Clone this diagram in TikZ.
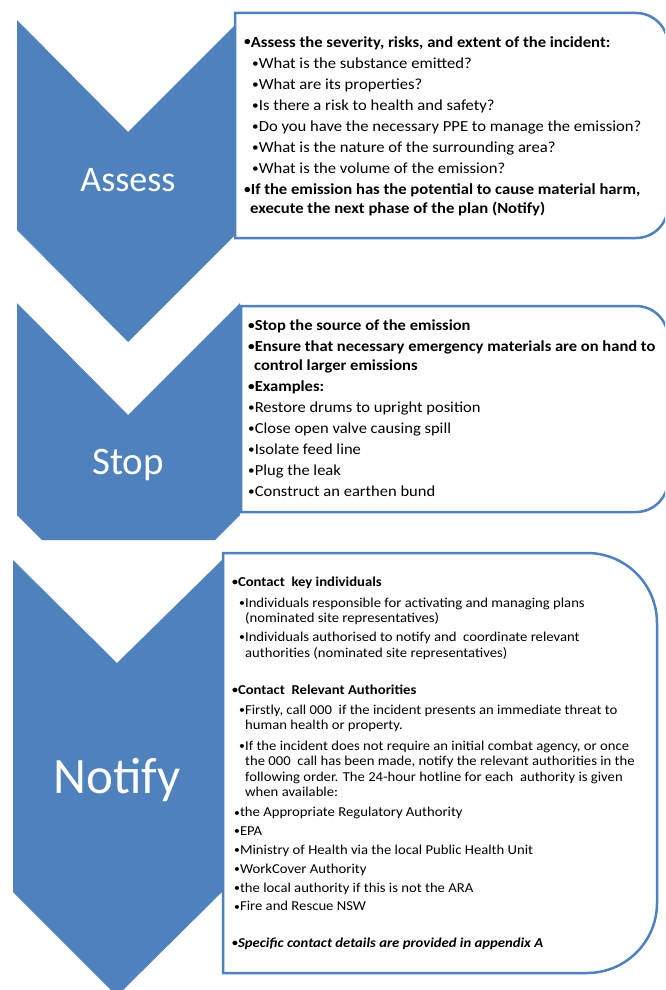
\documentclass[tikz,border=0pt]{standalone}
\usepackage{fontspec}
\setmainfont{Carlito}
\newfontfamily\listfont{Carlito}[FakeStretch=1.08]
\definecolor{chevblue}{HTML}{4F81BD}
\newcommand{\bul}{\raisebox{0.07em}{\scalebox{0.8}{•}}}
\tikzset{
  chevron/.style={fill=chevblue},
  steplabel/.style={text=white, inner sep=0pt},
  listbox/.style={draw=chevblue, line width=2.5pt, fill=white},
  listtext/.style={anchor=north west, inner sep=0pt, align=left, text=black}
}

\begin{document}
\begin{tikzpicture}[x=1pt,y=-1pt]
  \useasboundingbox (0,0) rectangle (665,990);
  \clip (0,0) rectangle (665,990);
  % Assess
  \fill[chevron] (17,20) -- (128,132) -- (240,20) -- (240,230) -- (128,342) -- (17,230) -- cycle;
  \node[steplabel, font=\fontsize{36}{40}\selectfont] (assess) at (128,180) {Assess};
  \draw[listbox] (235,13) -- (636,13) arc[start angle=-90,end angle=0,radius=32] -- (668,206) arc[start angle=0,end angle=90,radius=32] -- (235,238) -- cycle;
  \node[listtext, font=\listfont\fontsize{15.4}{21.1}\selectfont] (assesslist) at (244,36) {%
    \textbf{\bul Assess the severity, risks, and extent of the incident:}\\
    \hspace*{8pt}\bul What is the substance emitted?\\
    \hspace*{8pt}\bul What are its properties?\\
    \hspace*{8pt}\bul Is there a risk to health and safety?\\
    \hspace*{8pt}\bul Do you have the necessary PPE to manage the emission?\\
    \hspace*{8pt}\bul What is the nature of the surrounding area?\\
    \hspace*{8pt}\bul What is the volume of the emission?\\
    \textbf{\bul If the emission has the potential to cause material harm,}\\[-2pt]
    \hspace*{6pt}\textbf{execute the next phase of the plan (Notify)}};
  % Stop
  \fill[chevron] (17,303) -- (128,415) -- (240,303) -- (240,515) -- (215,540) -- (42,540) -- (17,515) -- cycle;
  \node[steplabel, font=\fontsize{39}{44}\selectfont] (stop) at (128,465) {Stop};
  \draw[listbox] (241,306) -- (636,306) arc[start angle=-90,end angle=0,radius=32] -- (668,480) arc[start angle=0,end angle=90,radius=32] -- (241,512) -- cycle;
  \node[listtext, font=\listfont\fontsize{15.3}{20.9}\selectfont] (stoplist) at (248,320) {%
    \textbf{\bul Stop the source of the emission}\\
    \textbf{\bul Ensure that necessary emergency materials are on hand to}\\[-2pt]
    \hspace*{6pt}\textbf{control larger emissions}\\
    \textbf{\bul Examples:}\\
    \bul Restore drums to upright position\\
    \bul Close open valve causing spill\\
    \bul Isolate feed line\\
    \bul Plug the leak\\
    \bul Construct an earthen bund};
  % Notify
  \fill[chevron] (13,560) -- (117,663) -- (222,560) -- (222,892) -- (117,996) -- (13,892) -- cycle;
  \node[steplabel, font=\fontsize{51}{56}\selectfont] (notify) at (117,780) {Notify};
  \draw[listbox] (223,553) -- (587,553) arc[start angle=-90,end angle=0,radius=70] -- (657,903) arc[start angle=0,end angle=90,radius=70] -- (223,973) -- cycle;
  \node[listtext, font=\listfont\fontsize{13.6}{15.6}\selectfont] (notifylist) at (232,577) {%
    \textbf{\bul Contact\ \ key individuals}\\[5pt]
    \hspace*{7pt}\bul Individuals responsible for activating and managing plans\\
    \hspace*{13pt}(nominated site representatives)\\[3pt]
    \hspace*{7pt}\bul Individuals authorised to notify and\ \ coordinate relevant\\
    \hspace*{13pt}authorities (nominated site representatives)\\[21.5pt]
    \textbf{\bul Contact\ \ Relevant Authorities}\\[4.5pt]
    \hspace*{7pt}\bul Firstly, call 000\ \ if the incident presents an immediate threat to\\
    \hspace*{13pt}human health or property.\\[4.5pt]
    \hspace*{7pt}\bul If the incident does not require an initial combat agency, or once\\
    \hspace*{13pt}the 000\ \ call has been made, notify the relevant authorities in the\\
    \hspace*{13pt}following order. The 24-hour hotline for each\ \ authority is given\\
    \hspace*{13pt}when available:\\[4.5pt]
    \hspace*{2pt}\bul the Appropriate Regulatory Authority\\[3.2pt]
    \hspace*{2pt}\bul EPA\\[3.2pt]
    \hspace*{2pt}\bul Ministry of Health via the local Public Health Unit\\[3.2pt]
    \hspace*{2pt}\bul WorkCover Authority\\[3.2pt]
    \hspace*{2pt}\bul the local authority if this is not the ARA\\[3.2pt]
    \hspace*{2pt}\bul Fire and Rescue NSW\\[21pt]
    \textbf{\bul\itshape Specific contact details are provided in appendix A}};
\end{tikzpicture}
\end{document}
